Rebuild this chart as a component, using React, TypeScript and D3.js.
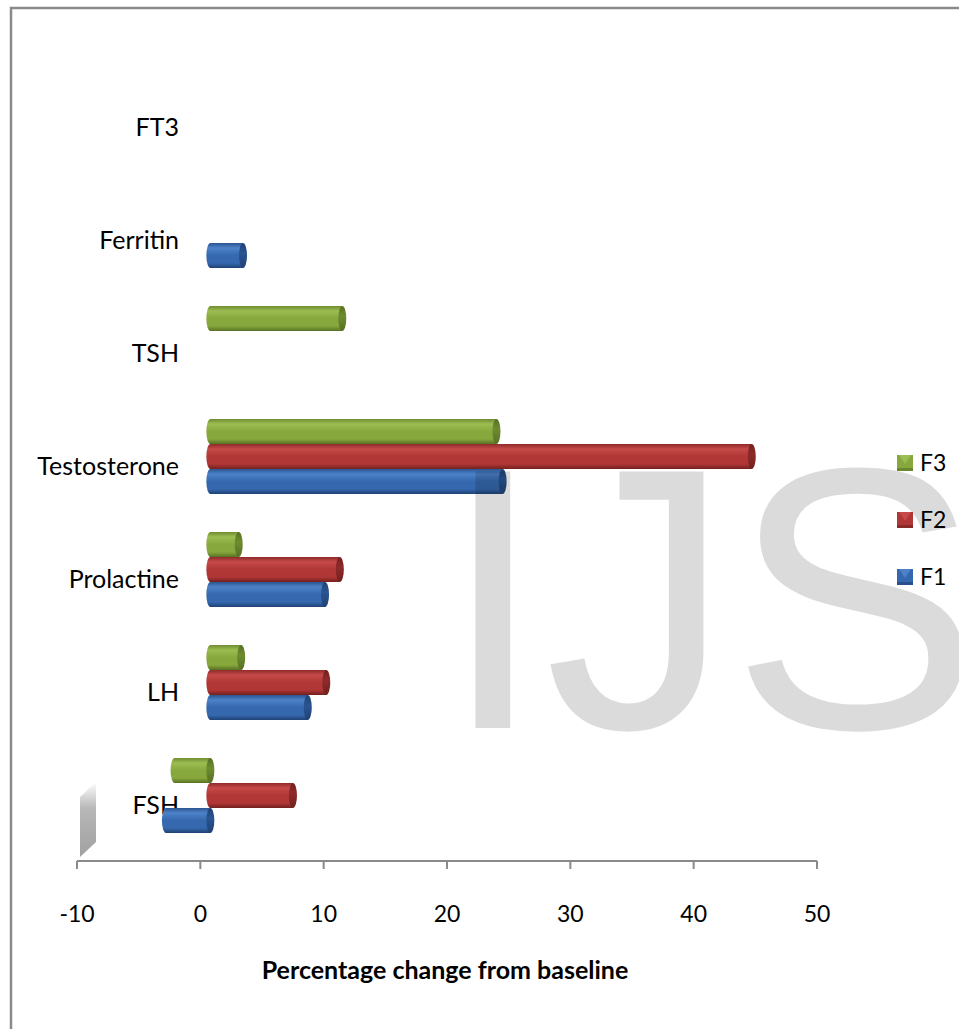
import React from "react";
import * as d3 from "d3";

const categories = ["FSH", "LH", "Prolactine", "Testosterone", "TSH", "Ferritin", "FT3"];
const seriesNames = ["F1", "F2", "F3"];
const F1: (number | null)[] = [-3.6, 7.9, 9.3, 23.7, null, 2.65, null];
const F2: (number | null)[] = [6.7, 9.4, 10.5, 43.9, null, null, null];
const F3: (number | null)[] = [-2.9, 2.5, 2.3, 23.2, 10.7, null, null];
const xTicks = [-10, 0, 10, 20, 30, 40, 50];
const axisTitle = "Percentage change from baseline";
const legendOrder = ["F3", "F2", "F1"];

const seriesValues: Record<string, (number | null)[]> = { F1, F2, F3 };
const colors: Record<string, { light: string; base: string; dark: string; cap: string }> = {
  F1: { light: "#4d82c8", base: "#3568ae", dark: "#1f4275", cap: "#2a5591" },
  F2: { light: "#c54a48", base: "#b03736", dark: "#72201f", cap: "#8f2b2a" },
  F3: { light: "#9cbd52", base: "#87a83c", dark: "#577024", cap: "#6f8c30" },
};

const W = 959;
const H = 1029;
const FONT = "Lato, 'Open Sans', sans-serif";

export default function App() {
  const x = d3.scaleLinear().domain([-10, 50]).range([77, 817]);
  const y = d3.scaleBand<string>().domain(categories).range([862, 71]);
  const inner = d3
    .scaleBand<string>()
    .domain(["F3", "F2", "F1"])
    .range([0, 75]);
  const dx = 10;
  const dy = -10;
  const rx = 4;
  const bandPad = (y.bandwidth() - 75) / 2;

  const bars: React.ReactNode[] = [];
  seriesNames.forEach((s) => {
    seriesValues[s].forEach((v, i) => {
      if (v === null || v === undefined) return;
      const cat = categories[i];
      const top = (y(cat) as number) + bandPad + (inner(s) as number) + dy;
      const h = inner.bandwidth();
      const ry = h / 2;
      const xa = x(Math.min(0, v)) + dx;
      const xb = x(Math.max(0, v)) + dx;
      const cy = top + ry;
      const body = `M${xa},${top} L${xb},${top} L${xb},${top + h} L${xa},${top + h} A${rx},${ry} 0 0 1 ${xa},${top} Z`;
      bars.push(
        <g key={s + cat}>
          <path d={body} fill={`url(#grad-${s})`} />
          <ellipse cx={xb} cy={cy} rx={rx} ry={ry} fill={`url(#capgrad-${s})`} />
        </g>
      );
    });
  });

  return (
    <svg
      width={W}
      height={H}
      style={{ position: "absolute", left: 0, top: 0, background: "#fff" }}
      fontFamily={FONT}
    >
      <defs>
        {seriesNames.map((s) => (
          <linearGradient key={s} id={`grad-${s}`} x1="0" y1="0" x2="0" y2="1">
            <stop offset="0" stopColor={colors[s].cap} />
            <stop offset="0.2" stopColor={colors[s].light} />
            <stop offset="0.5" stopColor={colors[s].base} />
            <stop offset="0.8" stopColor={colors[s].base} />
            <stop offset="1" stopColor={colors[s].dark} />
          </linearGradient>
        ))}
        {seriesNames.map((s) => (
          <linearGradient key={s} id={`capgrad-${s}`} x1="0" y1="0" x2="0" y2="1">
            <stop offset="0" stopColor={colors[s].dark} />
            <stop offset="0.4" stopColor={colors[s].cap} />
            <stop offset="1" stopColor={colors[s].dark} />
          </linearGradient>
        ))}
        <linearGradient id="wallgrad" x1="0" y1="0" x2="0" y2="1">
          <stop offset="0" stopColor="#ffffff" />
          <stop offset="0.35" stopColor="#b8b8b8" />
          <stop offset="1" stopColor="#a0a0a0" />
        </linearGradient>
      </defs>

      {/* frame */}
      <path d={`M11,${H} V8 H${W}`} fill="none" stroke="#8a8a8a" strokeWidth={2.5} />

      {/* wall fragment */}
      <polygon points="80,857 96,842 96,782 80,797" fill="url(#wallgrad)" />

      {/* category labels */}
      {categories.map((c) => (
        <text
          key={c}
          x={179}
          y={(y(c) as number) + y.bandwidth() / 2}
          dy="0.35em"
          textAnchor="end"
          fontSize={25}
          fill="#000"
        >
          {c}
        </text>
      ))}

      {bars}

      {/* x axis */}
      <line x1={x(-10)} x2={x(50)} y1={861} y2={861} stroke="#8a8a8a" strokeWidth={2} />
      {xTicks.map((t) => (
        <g key={t}>
          <line x1={x(t)} x2={x(t)} y1={861} y2={869} stroke="#8a8a8a" strokeWidth={2} />
          <text x={x(t)} y={922} textAnchor="middle" fontSize={23} fill="#000">
            {t}
          </text>
        </g>
      ))}
      <text x={445} y={979} textAnchor="middle" fontSize={25} fontWeight="bold" fill="#000">
        {axisTitle}
      </text>

      {/* watermark */}
      <text
        x={441}
        y={728}
        fontFamily="'Liberation Sans', Arial, sans-serif"
        fontSize={373}
        fill="#000"
        fillOpacity={0.14}
      >
        IJS
      </text>

      {/* legend */}
      {legendOrder.map((s, i) => {
        const ly = 463 + i * 57;
        const lx = 897;
        const sz = 16;
        return (
          <g key={s}>
            <rect x={lx} y={ly - sz / 2} width={sz} height={sz} fill={colors[s].base} />
            <polygon
              points={`${lx + 2},${ly - sz / 2} ${lx + sz - 2},${ly - sz / 2} ${lx + sz / 2},${ly + 1}`}
              fill={colors[s].light}
            />
            <rect x={lx} y={ly + sz / 2 - 3} width={sz} height={3} fill={colors[s].dark} fillOpacity={0.6} />
            <text x={920} y={ly} dy="0.35em" fontSize={23} fill="#000">
              {s}
            </text>
          </g>
        );
      })}
    </svg>
  );
}
